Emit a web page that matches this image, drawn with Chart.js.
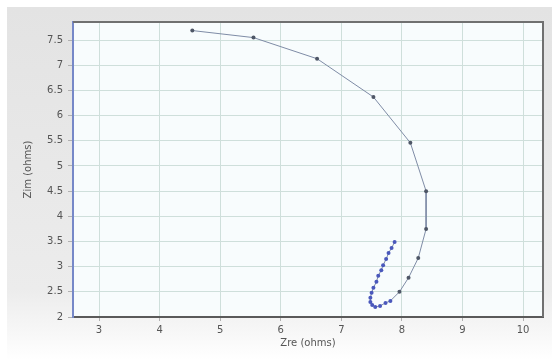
<!DOCTYPE html>
<html>
<head>
<meta charset="utf-8">
<script src="https://cdn.jsdelivr.net/npm/chart.js@4/dist/chart.umd.min.js"></script>
<style>
  html, body { margin: 0; padding: 0; background: #ffffff; }
  #wrap { width: 552px; height: 360px; }
</style>
</head>
<body>
<div id="wrap"><canvas id="c" width="552" height="360"></canvas></div>
<script>
// Impedance sweep: real part vs imaginary part (ohms)
const zre = [4.54, 5.55, 6.60, 7.53, 8.14, 8.40, 8.40, 8.27, 8.11, 7.96,
             7.81, 7.73, 7.64, 7.56, 7.51, 7.48, 7.48, 7.50, 7.53, 7.58,
             7.61, 7.66, 7.69, 7.74, 7.78, 7.83, 7.88];
const zim = [7.69, 7.55, 7.13, 6.37, 5.46, 4.50, 3.75, 3.17, 2.78, 2.50,
             2.32, 2.28, 2.22, 2.20, 2.24, 2.30, 2.38, 2.48, 2.58, 2.70,
             2.82, 2.93, 3.03, 3.15, 3.27, 3.37, 3.49];
const xTicks = [3, 4, 5, 6, 7, 8, 9, 10];
const yTicks = [2, 2.5, 3, 3.5, 4, 4.5, 5, 5.5, 6, 6.5, 7, 7.5];
const xTitle = 'Zre (ohms)';
const yTitle = 'Zim (ohms)';

const points = zre.map((x, i) => ({ x: x, y: zim[i] }));

// panel background and plot frame
const framePlugin = {
  id: 'frame',
  beforeDraw(chart) {
    const { ctx, chartArea: a } = chart;
    ctx.save();
    const g = ctx.createLinearGradient(0, 7, 0, 360);
    g.addColorStop(0, '#e3e3e3');
    g.addColorStop(0.8, '#ececec');
    g.addColorStop(0.93, '#f8f8f8');
    g.addColorStop(1, '#ffffff');
    ctx.fillStyle = g;
    ctx.fillRect(7, 7, 545, 353);
    ctx.fillStyle = '#f8fcfd';
    ctx.fillRect(a.left, a.top, a.right - a.left, a.bottom - a.top);
    ctx.restore();
  },
  beforeDatasetsDraw(chart) {
    const { ctx, chartArea: a } = chart;
    ctx.save();
    ctx.strokeStyle = '#707070';
    ctx.lineWidth = 2;
    ctx.beginPath();
    ctx.moveTo(a.left, a.top);
    ctx.lineTo(a.right, a.top);
    ctx.lineTo(a.right, a.bottom);
    ctx.stroke();
    ctx.restore();
  }
};

const plainLabel = v => String(v);

new Chart(document.getElementById('c'), {
  type: 'scatter',
  data: {
    datasets: [{
      data: points,
      showLine: true,
      borderColor: '#7f8ca6',
      borderWidth: 1,
      pointRadius: 2,
      pointBorderWidth: 0,
      pointBackgroundColor: ctx => ctx.dataIndex < 10 ? '#4e5666' : '#4a58bc',
      tension: 0
    }]
  },
  options: {
    responsive: false,
    animation: false,
    layout: { padding: { top: 22, right: 9, left: 0, bottom: 0 } },
    plugins: { legend: { display: false }, tooltip: { enabled: false } },
    scales: {
      x: {
        type: 'linear',
        min: 2.57,
        max: 10.33,
        afterBuildTicks: s => { s.ticks = xTicks.map(v => ({ value: v })); },
        afterFit: s => { s.height = 43; },
        grid: { color: '#cfdfdb', lineWidth: 1, tickLength: 4, tickColor: '#b0b0b0' },
        border: { color: '#5a5a5a', width: 2 },
        ticks: { font: { family: 'DejaVu Sans', size: 10 }, color: '#555555', padding: 3, maxRotation: 0, callback: plainLabel },
        title: { display: true, text: xTitle, font: { family: 'DejaVu Sans', size: 10 }, color: '#555555', padding: { top: 0, bottom: 11 } }
      },
      y: {
        type: 'linear',
        min: 2,
        max: 7.86,
        afterBuildTicks: s => { s.ticks = yTicks.map(v => ({ value: v })); },
        afterFit: s => { s.width = 73; },
        grid: { color: '#cfdfdb', lineWidth: 1, tickLength: 5, tickColor: '#b0b0b0' },
        border: { color: '#7688c8', width: 2 },
        ticks: { font: { family: 'DejaVu Sans', size: 10 }, color: '#555555', padding: 5, callback: plainLabel },
        title: { display: true, text: yTitle, font: { family: 'DejaVu Sans', size: 10 }, color: '#555555', padding: { top: 22, bottom: 0 } }
      }
    }
  },
  plugins: [framePlugin]
});
</script>
</body>
</html>
